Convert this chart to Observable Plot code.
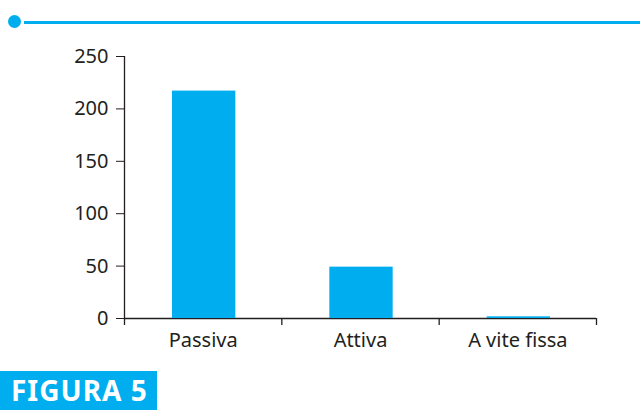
<!DOCTYPE html>
<html>
<head>
<meta charset="utf-8">
<script src="https://cdn.jsdelivr.net/npm/d3@7"></script>
<script src="https://cdn.jsdelivr.net/npm/@observablehq/plot@0.6"></script>
<style>
  html, body { margin: 0; padding: 0; background: #fff; }
  #wrap { position: relative; width: 640px; height: 410px; overflow: hidden; font-family: "Noto Sans", "Open Sans", sans-serif; }
  #wrap svg { position: absolute; left: 0; top: 0; }
  .dot { position: absolute; left: 8px; top: 15px; width: 13px; height: 13px; border-radius: 50%; background: #00aeef; }
  .line { position: absolute; left: 24px; top: 21px; right: 0; height: 2.5px; background: #00aeef; }
  .fig { position: absolute; left: 0; top: 371px; width: 157px; height: 39px; background: #00aeef; color: #fff;
         font-weight: bold; font-size: 28px; line-height: 39px; padding-left: 11px; box-sizing: border-box; letter-spacing: 1px; }
</style>
</head>
<body>
<div id="wrap"></div>
<script>
const categories = ["Passiva", "Attiva", "A vite fissa"];
const values = [217, 49, 1.6];
const yTicks = [0, 50, 100, 150, 200, 250];
const figureLabel = "FIGURA 5";

const data = categories.map((c, i) => ({category: c, index: i, value: values[i]}));
const ink = "#231f20";
const cyan = "#00aeef";

const chart = Plot.plot({
  width: 640,
  height: 410,
  marginLeft: 124,
  marginRight: 44,
  marginTop: 56,
  marginBottom: 92,
  style: {fontFamily: "'Noto Sans', 'Open Sans', sans-serif", color: ink, background: "transparent", overflow: "visible"},
  x: {type: "linear", domain: [0, categories.length]},
  y: {domain: [yTicks[0], yTicks[yTicks.length - 1]]},
  marks: [
    Plot.axisY({ticks: yTicks, tickSize: 8, tickPadding: 8, fontSize: 20, label: null}),
    Plot.ruleX([0], {stroke: ink, strokeWidth: 1.3}),
    Plot.axisX({ticks: d3.range(categories.length + 1), tickFormat: () => "", tickSize: 7, label: null, strokeWidth: 1.3}),
    Plot.axisX({ticks: categories.map((c, i) => i + 0.5), tickFormat: t => categories[Math.floor(t)], tickSize: 0, tickPadding: 14, fontSize: 20, label: null}),
    Plot.ruleY([0], {stroke: ink, strokeWidth: 1.3}),
    Plot.rectY(data, {x1: "index", x2: d => d.index + 1, y: "value", insetLeft: 48, insetRight: 46, fill: cyan})
  ]
});

const wrap = document.getElementById("wrap");
wrap.appendChild(chart);
const dot = document.createElement("div"); dot.className = "dot"; wrap.appendChild(dot);
const line = document.createElement("div"); line.className = "line"; wrap.appendChild(line);
const fig = document.createElement("div"); fig.className = "fig"; fig.textContent = figureLabel; wrap.appendChild(fig);
</script>
</body>
</html>
